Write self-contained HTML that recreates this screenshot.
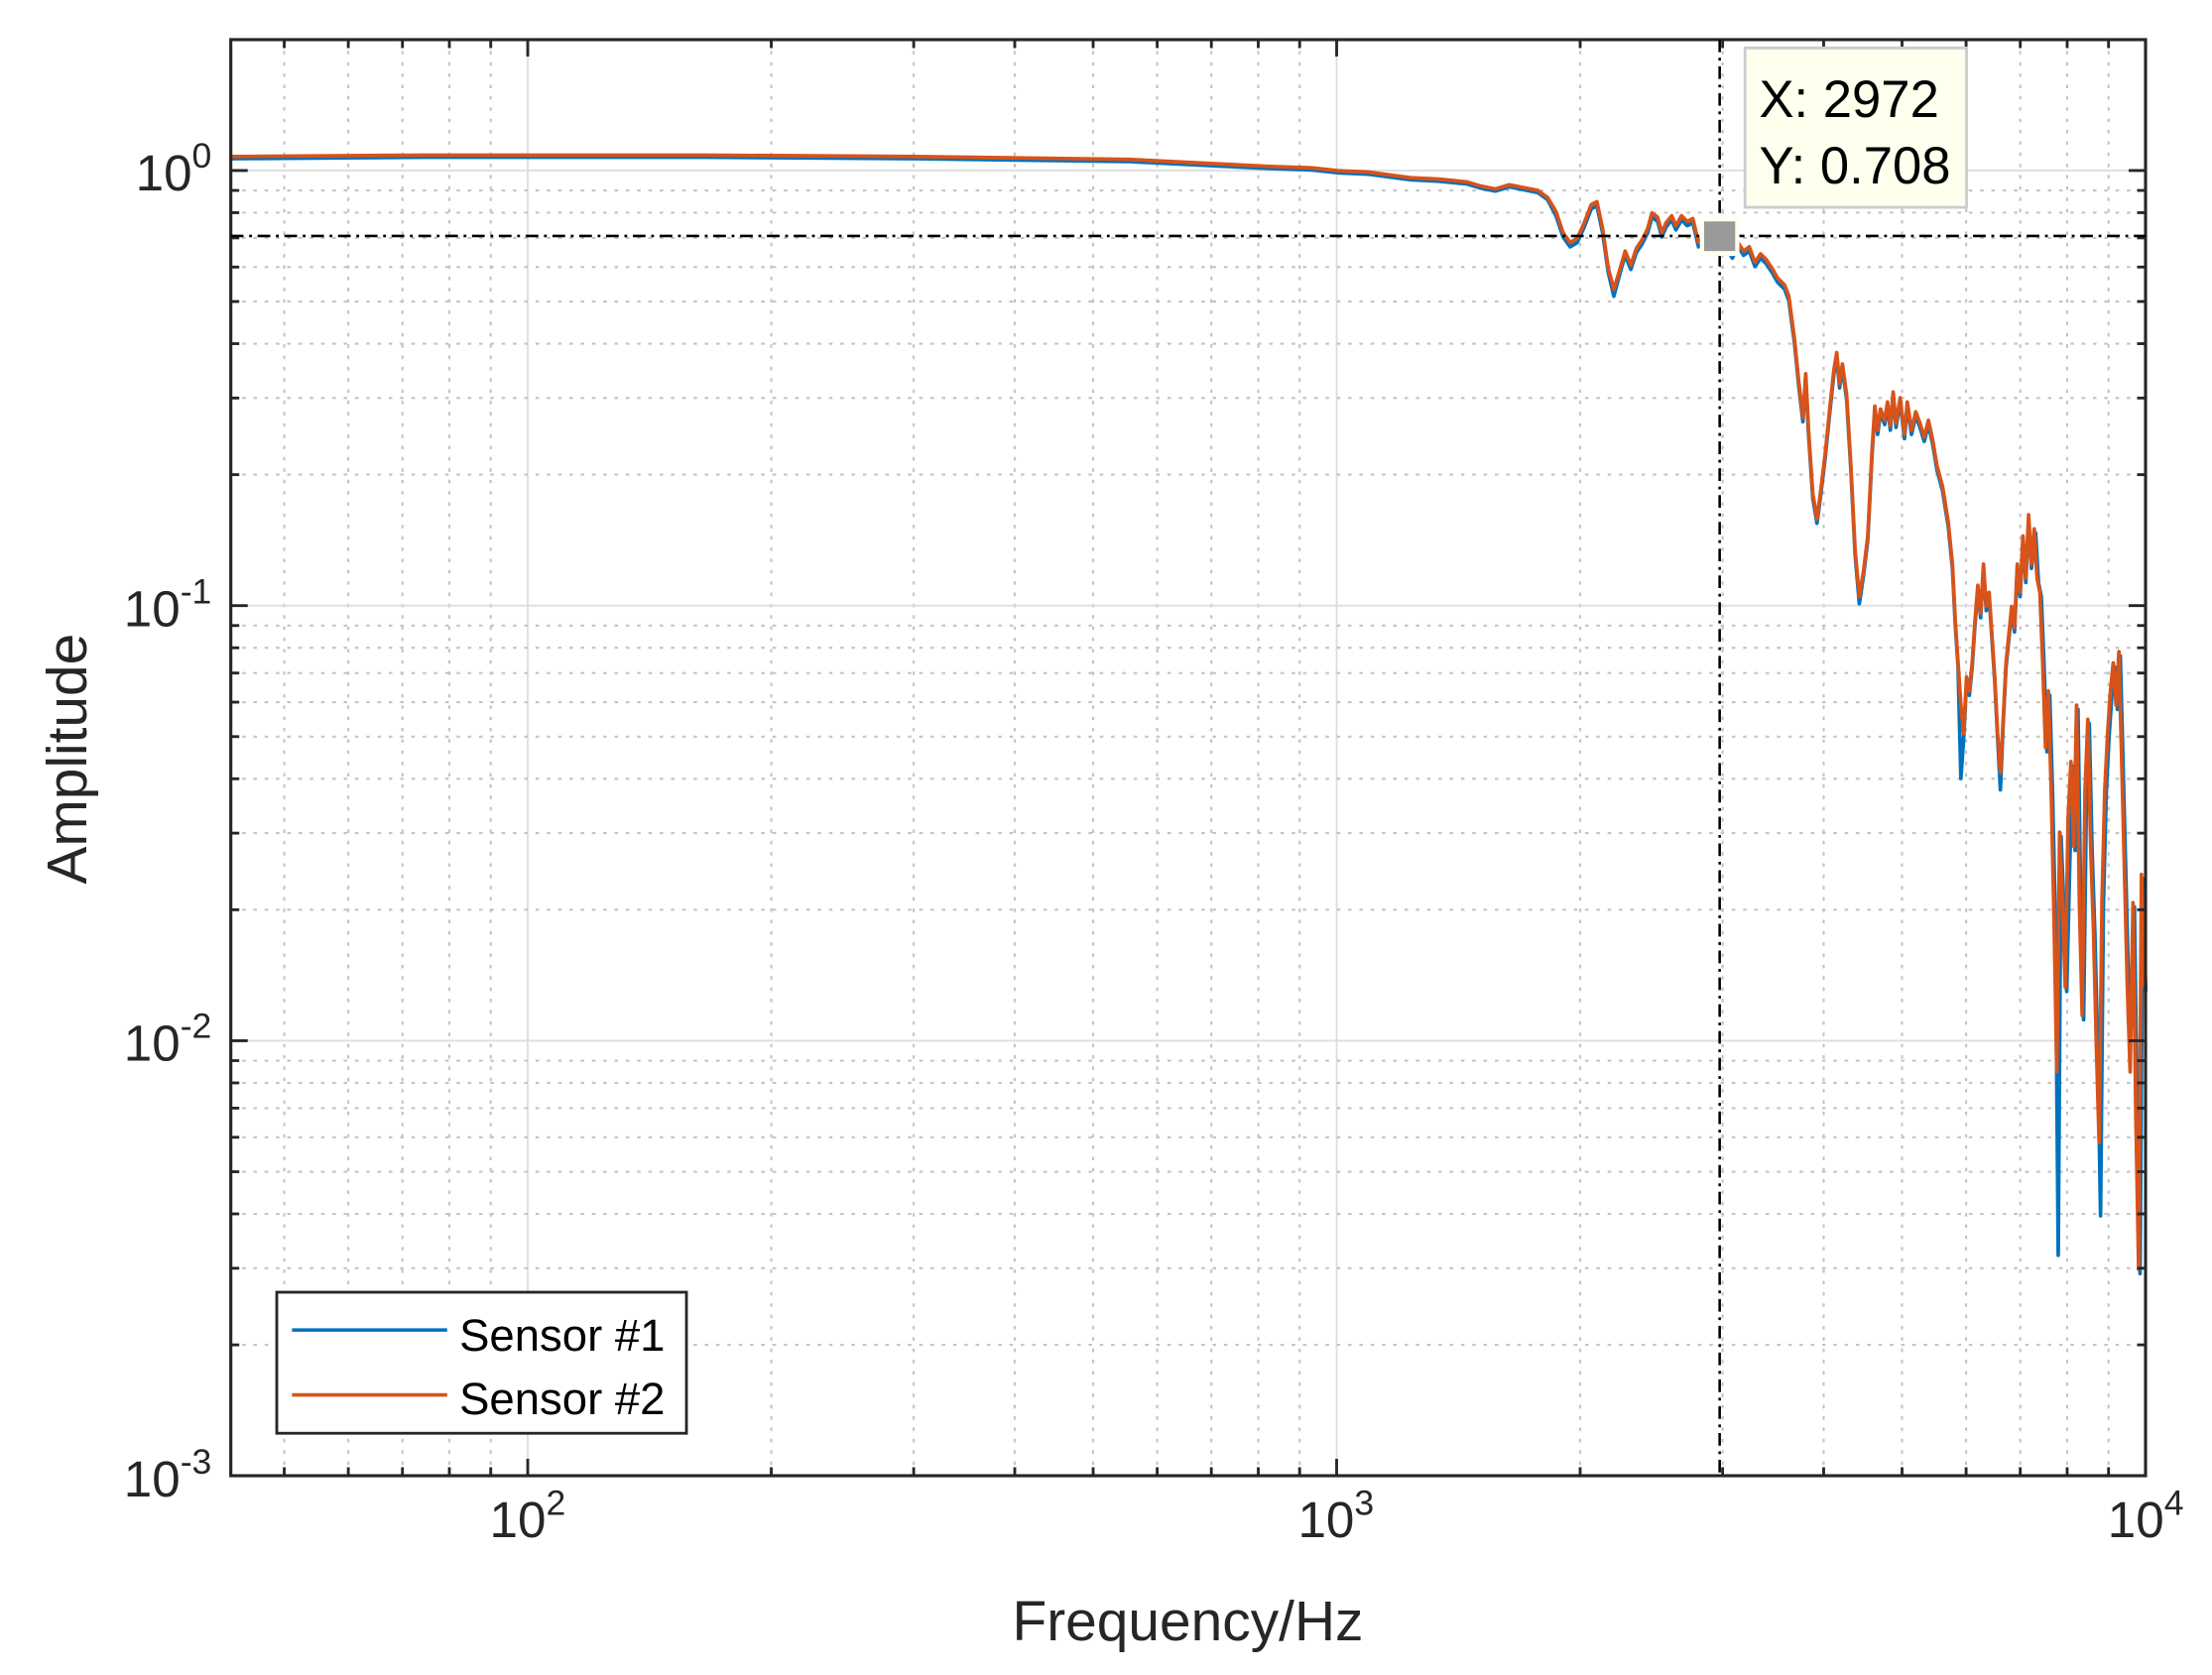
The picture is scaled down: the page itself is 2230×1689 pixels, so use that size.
<!DOCTYPE html>
<html><head><meta charset="utf-8"><style>
html,body{margin:0;padding:0;background:#fff;}
svg{display:block;}
text{font-family:"Liberation Sans",Arial,sans-serif;fill:#262626;}
</style></head><body>
<svg id="s" width="2230" height="1689" viewBox="0 0 1568 1187.6" xmlns="http://www.w3.org/2000/svg">
<rect x="0" y="0" width="1568" height="1187.6" fill="#fff"/>
<g id="grid"></g>
<g id="data"></g>
<g id="ticks"></g>
<rect x="163.6" y="28.1" width="1357.3" height="1018.2" fill="none" stroke="#262626" stroke-width="2.2"/>
<g font-size="36">
<text x="150" y="135" text-anchor="end">10<tspan dy="-16" font-size="25">0</tspan></text>
<text x="150" y="444" text-anchor="end">10<tspan dy="-16" font-size="25">-1</tspan></text>
<text x="150" y="752" text-anchor="end">10<tspan dy="-16" font-size="25">-2</tspan></text>
<text x="150" y="1061" text-anchor="end">10<tspan dy="-16" font-size="25">-3</tspan></text>
<text x="374" y="1090" text-anchor="middle">10<tspan dy="-16" font-size="25">2</tspan></text>
<text x="947" y="1090" text-anchor="middle">10<tspan dy="-16" font-size="25">3</tspan></text>
<text x="1521" y="1090" text-anchor="middle">10<tspan dy="-16" font-size="25">4</tspan></text>
</g>
<text x="842" y="1163" font-size="40" text-anchor="middle">Frequency/Hz</text>
<text transform="translate(61,538) rotate(-90)" font-size="40" text-anchor="middle">Amplitude</text>
<rect x="196.2" y="916.2" width="290.4" height="100" fill="#fff" stroke="#262626" stroke-width="2"/>
<line x1="207" y1="943" x2="317" y2="943" stroke="#0072BD" stroke-width="2.5"/>
<line x1="207" y1="989" x2="317" y2="989" stroke="#D95319" stroke-width="2.5"/>
<text x="325.6" y="957.7" font-size="32" style="fill:#000">Sensor #1</text>
<text x="325.6" y="1002.7" font-size="32" style="fill:#000">Sensor #2</text>
<line x1="1219" y1="28" x2="1219" y2="1046" stroke="#000" stroke-width="1.8" stroke-dasharray="9,4,2,4"/>
<line x1="163.6" y1="167.3" x2="1521" y2="167.3" stroke="#000" stroke-width="1.8" stroke-dasharray="9,4,2,4"/>
<rect x="1205" y="153.5" width="28" height="28" fill="#fffff0"/>
<rect x="1208" y="157" width="22" height="21" fill="#999"/>
<rect x="1237" y="34" width="157" height="113" fill="#ffffee" stroke="#ccc" stroke-width="2"/>
<text x="1247" y="83" font-size="37" style="fill:#000">X: 2972</text>
<text x="1247" y="130" font-size="37" style="fill:#000">Y: 0.708</text>
</svg>
<script>
var L=163.6,R=1520.9,T=28.1,B=1046.3;
var X=function(f){return 374.1+573.4*(Math.log10(f)-2);};
var Y=function(a){return 120.9-308.5*Math.log10(a);};
var ns="http://www.w3.org/2000/svg";
function el(p,tag,at){var e=document.createElementNS(ns,tag);for(var k in at)e.setAttribute(k,at[k]);p.appendChild(e);return e;}
var g=document.getElementById('grid'),tk=document.getElementById('ticks');
for(var d=1;d<=3;d++){for(var k=1;k<=9;k++){var f=k*Math.pow(10,d);var x=X(f);if(x<L+1||x>R-1)continue;
 if(k==1){el(g,'line',{x1:x,y1:T,x2:x,y2:B,stroke:'#dedede','stroke-width':1.3});
  el(tk,'line',{x1:x,y1:B,x2:x,y2:B-12,stroke:'#262626','stroke-width':2});el(tk,'line',{x1:x,y1:T,x2:x,y2:T+12,stroke:'#262626','stroke-width':2});}
 else{el(g,'line',{x1:x,y1:T,x2:x,y2:B,stroke:'#c4c4c4','stroke-width':1.5,'stroke-dasharray':'2.5,5.5'});
  el(tk,'line',{x1:x,y1:B,x2:x,y2:B-6,stroke:'#262626','stroke-width':2});el(tk,'line',{x1:x,y1:T,x2:x,y2:T+6,stroke:'#262626','stroke-width':2});}}}
for(var d=-3;d<=0;d++){for(var k=1;k<=9;k++){var a=k*Math.pow(10,d);var y=Y(a);if(y<T+1||y>B-1)continue;
 if(k==1){el(g,'line',{x1:L,y1:y,x2:R,y2:y,stroke:'#dedede','stroke-width':1.3});
  el(tk,'line',{x1:L,y1:y,x2:L+12,y2:y,stroke:'#262626','stroke-width':2});el(tk,'line',{x1:R,y1:y,x2:R-12,y2:y,stroke:'#262626','stroke-width':2});}
 else{el(g,'line',{x1:L,y1:y,x2:R,y2:y,stroke:'#c4c4c4','stroke-width':1.5,'stroke-dasharray':'2.5,5.5'});
  el(tk,'line',{x1:L,y1:y,x2:L+6,y2:y,stroke:'#262626','stroke-width':2});el(tk,'line',{x1:R,y1:y,x2:R-6,y2:y,stroke:'#262626','stroke-width':2});}}}
var pts=[[164,111],[300,110],[500,110],[650,111],[800,113],[860,116],[900,118],[930,119],[948,121],[970,122],[1000,126],[1020,127],[1040,129],[1050,132],[1060,134],[1070,131],[1080,133],[1090,135],[1097,140],[1103,150],[1108,165],[1113,172],[1118,169],[1123,158],[1128,145],[1132,143],[1136,162],[1140,190],[1144,205],[1148,192],[1152,178],[1156,188],[1160,176],[1164,170],[1168,162],[1171,151],[1175,154],[1178,165],[1181,158],[1185,153],[1188,160],[1192,153],[1196,157],[1200,155],[1204,172],[1209,165],[1216,166],[1222,170],[1228,180],[1232,172],[1236,178],[1240,175],[1244,186],[1248,180],[1252,184],[1256,190],[1260,197],[1265,202],[1268,210],[1272,240],[1275,270],[1278,296],[1280,265],[1282,305],[1285,350],[1288,368],[1291,345],[1294,320],[1297,290],[1300,262],[1302,250],[1304,272],[1306,258],[1309,280],[1312,330],[1315,390],[1318,423],[1321,405],[1324,380],[1327,320],[1329,288],[1331,305],[1333,290],[1336,298],[1338,285],[1340,302],[1342,278],[1344,300],[1347,282],[1350,308],[1352,285],[1355,305],[1358,292],[1361,300],[1364,310],[1367,298],[1370,312],[1373,330],[1377,345],[1381,370],[1384,400],[1386,440],[1388,470],[1390,500],[1392,520],[1394,480],[1396,490],[1398,470],[1400,440],[1402,415],[1404,435],[1406,400],[1408,430],[1410,420],[1412,450],[1414,480],[1416,520],[1418,548],[1420,510],[1422,470],[1424,450],[1426,430],[1428,445],[1430,400],[1432,420],[1434,380],[1436,410],[1438,365],[1440,400],[1442,375],[1444,410],[1446,420],[1448,470],[1450,530],[1452,490],[1454,560],[1456,650],[1458,760],[1460,590],[1462,640],[1464,700],[1466,580],[1468,540],[1470,600],[1472,500],[1474,640],[1476,720],[1478,560],[1480,510],[1482,600],[1484,660],[1486,740],[1488,810],[1490,640],[1492,560],[1494,520],[1496,490],[1498,470],[1500,500],[1502,462],[1504,540],[1506,620],[1508,700],[1510,760],[1512,640],[1514,790],[1516,900],[1518,620],[1520,700]];
var bl=pts.map(function(p,i){var y=p[1]+ (p[0]>1100?3:1.5);
 if(p[0]==1390)y=552; if(p[0]==1458)y=890; if(p[0]==1488)y=862; if(p[0]==1418)y=560; if(p[0]==1318)y=428; if(p[0]==1144)y=210;
 if(p[0]==1466)y=620; if(p[0]==1510)y=720;return [p[0]+(p[0]>1440?1:0),y];});
function path(a){return a.map(function(p,i){return (i?'L':'M')+p[0]+','+p[1];}).join('');}
var dg=document.getElementById('data');
el(dg,'path',{d:path(bl),fill:'none',stroke:'#0072BD','stroke-width':2.6,'stroke-linejoin':'round'});
el(dg,'path',{d:path(pts),fill:'none',stroke:'#D95319','stroke-width':2.6,'stroke-linejoin':'round'});
</script>
</body></html>
